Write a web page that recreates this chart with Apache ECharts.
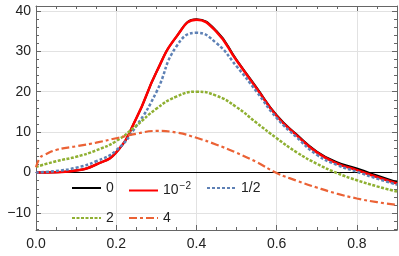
<!DOCTYPE html>
<html><head><meta charset="utf-8">
<script src="https://cdn.jsdelivr.net/npm/echarts@6/dist/echarts.min.js"></script>
<style>html,body{margin:0;padding:0;background:#fff}#c{width:399px;height:256px}</style>
</head><body><div id="c"></div>
<script>
// x positions shared by most curves
const xs = [0,0.05,0.1,0.15,0.2,0.25,0.3,0.35,0.4,0.45,0.5,0.55,0.6,0.65,0.7,0.75,0.8,0.85,0.9];
const names = ['0','10^-2','1/2','2','4'];
const y0   = [0,0.1,0.5,2.0,5.0,13.4,24.8,33.6,37.9,35.0,27.9,21.0,14.2,9.4,5.2,2.6,1.0,-0.7,-2.4];
const y001 = [0,0.1,0.5,2.0,5.0,13.4,24.8,33.6,37.8,34.8,27.7,20.8,14.0,9.2,5.0,2.3,0.6,-1.1,-2.7];
const yHalf= [0,0.4,1.2,2.8,5.5,11.5,19.9,31.2,34.6,32.0,26.3,20.0,13.5,8.7,4.4,1.9,0.2,-1.5,-3.0];
const y2   = [1.4,2.8,3.9,5.5,7.8,11.6,15.8,18.8,20.0,19.0,16.2,12.3,8.5,5.0,2.2,-0.1,-1.9,-3.4,-4.7];
const xs4  = [0,0.01,0.02,0.05,0.1,0.15,0.2,0.25,0.3,0.35,0.4,0.45,0.5,0.55,0.6,0.65,0.7,0.75,0.8,0.85,0.9];
const y4   = [1.3,3.7,4.3,5.6,6.5,7.4,8.5,9.6,10.3,9.9,8.6,6.9,4.9,2.6,-0.1,-2.0,-3.7,-5.2,-6.4,-7.3,-8.0];
const xTicks = [0,0.2,0.4,0.6,0.8];
const yTicks = [-10,0,10,20,30,40];

const pairs = (x, y) => x.map((v, i) => [v, y[i]]);
const colors = ['#000000','#ff0000','#5e81b5','#8fb032','#eb6235'];
const styles = [
  {width:2, type:'solid'},
  {width:2.5, type:'solid'},
  {width:2.5, type:[3,2]},
  {width:2.5, type:[3,1.5]},
  {width:2.2, type:[8,3,3,3]}
];
const datas = [pairs(xs,y0), pairs(xs,y001), pairs(xs,yHalf), pairs(xs,y2), pairs(xs4,y4)];

const frameColor = '#666';
const chart = echarts.init(document.getElementById('c'));
const grid = {left:36, right:2, top:6, bottom:26, containLabel:false};
const fmtY = v => v < 0 ? '\u2212' + Math.abs(v) : String(v);

const legendPos = [[66,176],[123,176],[201,176],[66,206],[123,206]];
const legends = names.map((n, i) => ({
  data:[n], left: legendPos[i][0], top: legendPos[i][1],
  itemWidth: 29, itemHeight: 14, itemGap: 0,
  itemStyle: {opacity: 0},
  textStyle: {fontFamily:'Liberation Sans, Arial', fontSize: 14, color:'#222',
    rich: {sup: {fontFamily:'Liberation Sans, Arial', fontSize: 10, color:'#222', padding:[0,0,9,1]}}},
  formatter: name => name === '10^-2' ? '10{sup|\u22122}' : name
}));

chart.setOption({
  animation:false,
  grid: grid,
  legend: legends,
  xAxis: [
    {type:'value', min:0, max:0.9, interval:0.2, position:'bottom',
     axisLine:{onZero:false, lineStyle:{color:frameColor, width:1}},
     axisTick:{inside:true, length:5, lineStyle:{color:frameColor}},
     minorTick:{show:true, splitNumber:4, length:3, lineStyle:{color:frameColor}},
     splitLine:{show:true, lineStyle:{color:'#e2e2e2', width:1}},
     axisLabel:{showMaxLabel:false, margin:7, fontFamily:'Liberation Sans, Arial', fontSize:14, color:'#222', formatter: v => v.toFixed(1)}},
    {type:'value', min:0, max:0.9, interval:0.2, position:'top',
     axisLine:{onZero:false, lineStyle:{color:frameColor, width:1}},
     axisTick:{inside:true, length:5, lineStyle:{color:frameColor}},
     minorTick:{show:true, splitNumber:4, length:3, lineStyle:{color:frameColor}},
     splitLine:{show:false}, axisLabel:{show:false}},
    {type:'value', min:0, max:0.9, position:'bottom',
     axisLine:{onZero:true, onZeroAxisIndex:0, lineStyle:{color:'#000', width:1}},
     axisTick:{show:false}, splitLine:{show:false}, axisLabel:{show:false}}
  ],
  yAxis: [
    {type:'value', min:-14.2, max:41.2, splitNumber:5, position:'left',
     axisLine:{show:true, onZero:false, lineStyle:{color:frameColor, width:1}},
     axisTick:{inside:true, length:5, lineStyle:{color:frameColor}},
     minorTick:{show:true, splitNumber:5, length:3, lineStyle:{color:frameColor}},
     splitLine:{show:true, lineStyle:{color:'#e2e2e2', width:1}},
     axisLabel:{showMinLabel:false, showMaxLabel:false, margin:5, fontFamily:'Liberation Sans, Arial', fontSize:14, color:'#222', formatter: fmtY}},
    {type:'value', min:-14.2, max:41.2, splitNumber:5, position:'right',
     axisLine:{show:true, onZero:false, lineStyle:{color:frameColor, width:1}},
     axisTick:{inside:true, length:5, lineStyle:{color:frameColor}},
     minorTick:{show:true, splitNumber:5, length:3, lineStyle:{color:frameColor}},
     splitLine:{show:false}, axisLabel:{show:false}}
  ],
  series: names.map((n, i) => ({
    name: n, type:'line', data: datas[i], xAxisIndex:0, yAxisIndex:0,
    showSymbol:false, symbol:'none', smooth:0.5,
    color: colors[i], lineStyle: Object.assign({color: colors[i], cap:'butt'}, styles[i]),
    z: 2 + i
  }))
});
</script></body></html>
